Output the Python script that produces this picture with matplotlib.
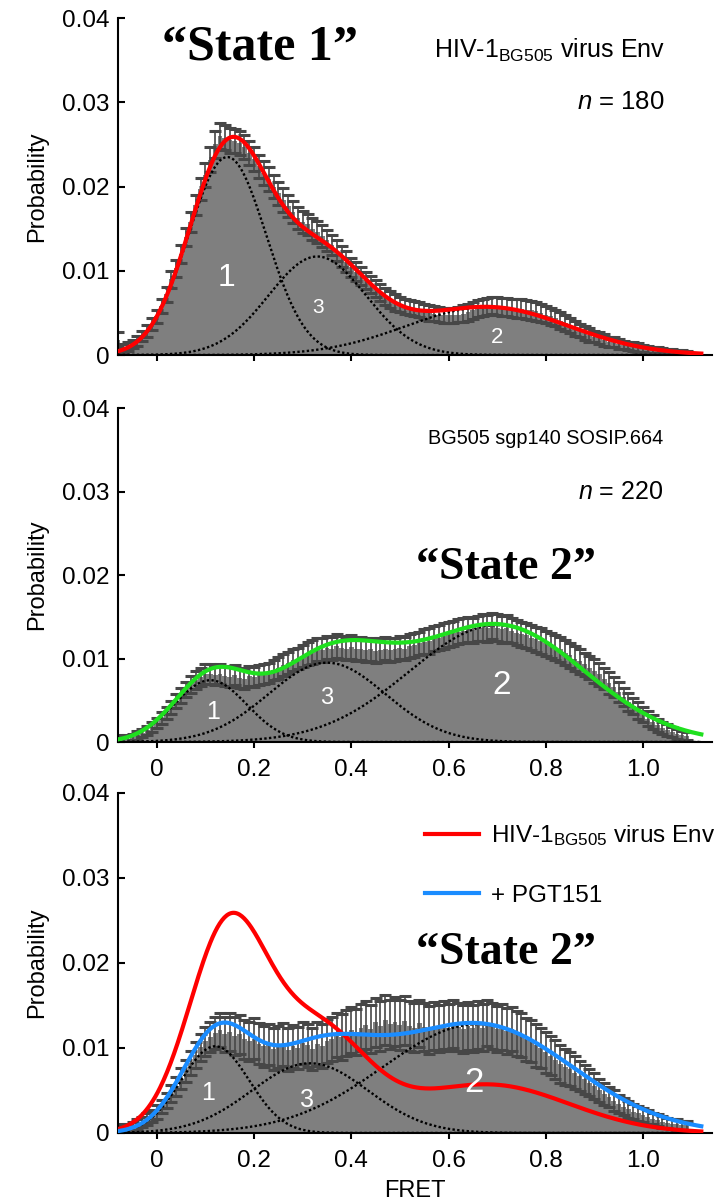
import numpy as np
import matplotlib
matplotlib.use("Agg")
import matplotlib.pyplot as plt

plt.rcParams['font.family'] = ['Liberation Sans', 'DejaVu Sans']
plt.rcParams['mathtext.fontset'] = 'custom'
plt.rcParams['mathtext.rm'] = 'Liberation Sans'
plt.rcParams['mathtext.it'] = 'Liberation Sans:italic'

# FRET bin centres (0.01 wide), -0.08 ... 1.09
fret_bins = np.round(np.arange(-8, 110) * 0.01, 2)

# histogram heights and errors, in units of 1e-4 probability
virus_bars = [18, 8, 10, 13, 17, 23, 29, 37,
              46, 58, 72, 90, 103, 120, 140, 158, 178, 197,
              214, 232, 250, 260, 258, 255, 254, 252, 247, 240,
              233, 224, 216, 209, 200, 192, 184, 177, 170, 163,
              158, 155, 150, 146, 141, 136, 131, 124, 117, 111,
              104, 99, 94, 89, 84, 79, 74, 70, 66, 62,
              60, 58, 56, 55, 54, 52, 50, 49, 48, 47,
              47, 47, 48, 49, 51, 53, 55, 56, 58, 59,
              58, 57, 57, 56, 55, 55, 54, 53, 52, 50,
              48, 46, 44, 41, 38, 35, 32, 29, 26, 24,
              22, 20, 18, 16, 15, 13, 12, 11, 10, 9,
              8, 7, 6, 5, 5, 4, 4, 3, 3, 2]
virus_errs = [9, 5, 5, 5, 6, 6, 7, 7,
              8, 8, 9, 10, 10, 11, 11, 12, 12, 13,
              14, 15, 16, 16, 15, 15, 14, 14, 14, 14,
              14, 14, 14, 14, 14, 14, 14, 13, 13, 13,
              13, 13, 13, 13, 13, 12, 12, 12, 12, 12,
              11, 11, 11, 10, 10, 10, 10, 10, 10, 10,
              9, 9, 9, 9, 9, 9, 9, 9, 9, 9,
              9, 9, 9, 10, 10, 10, 10, 10, 10, 10,
              11, 11, 11, 11, 11, 11, 11, 11, 11, 11,
              10, 10, 10, 10, 9, 9, 9, 8, 8, 8,
              7, 7, 7, 6, 6, 6, 5, 5, 5, 5,
              4, 4, 4, 4, 3, 3, 3, 3, 3, 3]

sosip_bars = [4, 3, 4, 6, 8, 11, 14, 18,
              23, 29, 35, 41, 49, 56, 63, 69, 74, 78,
              81, 82, 80, 81, 79, 78, 80, 77, 76, 79,
              78, 80, 82, 83, 86, 89, 92, 95, 98, 100,
              103, 106, 108, 111, 110, 113, 112, 115, 113, 112,
              114, 111, 112, 110, 111, 109, 110, 112, 110, 111,
              113, 112, 115, 116, 118, 120, 121, 124, 125, 127,
              129, 130, 132, 133, 135, 134, 136, 137, 136, 139,
              137, 135, 136, 133, 131, 129, 128, 125, 123, 121,
              118, 116, 113, 111, 107, 104, 100, 97, 93, 89,
              85, 81, 76, 71, 66, 60, 54, 48, 43, 38,
              33, 28, 24, 20, 17, 14, 12, 10, 8, 7]
sosip_errs = [5, 4, 4, 4, 5, 5, 5, 6,
              6, 7, 7, 8, 8, 9, 9, 10, 11, 11,
              12, 12, 12, 12, 12, 12, 12, 12, 12, 12,
              12, 12, 12, 12, 12, 13, 13, 13, 13, 13,
              13, 14, 14, 14, 14, 14, 14, 14, 14, 14,
              14, 14, 14, 14, 14, 14, 14, 14, 14, 14,
              14, 14, 14, 14, 14, 15, 15, 15, 15, 15,
              15, 15, 15, 15, 15, 15, 15, 16, 16, 16,
              16, 16, 16, 15, 15, 15, 15, 15, 15, 15,
              15, 15, 15, 15, 15, 15, 15, 15, 14, 14,
              14, 14, 13, 13, 12, 12, 11, 11, 10, 10,
              9, 9, 8, 8, 7, 7, 6, 6, 5, 5]

pgt_bars = [4, 5, 6, 8, 10, 13, 16, 20,
            25, 31, 38, 46, 55, 64, 73, 82, 92, 101,
            108, 113, 118, 121, 116, 119, 114, 116, 110, 108,
            111, 105, 102, 104, 99, 101, 104, 98, 102, 100,
            106, 103, 99, 105, 102, 108, 111, 115, 113, 118,
            121, 119, 124, 127, 122, 130, 126, 133, 128, 131,
            127, 132, 126, 124, 129, 125, 121, 126, 123, 127,
            124, 128, 125, 122, 126, 123, 127, 124, 129, 126,
            122, 125, 120, 122, 117, 115, 110, 108, 103, 100,
            95, 91, 86, 81, 78, 75, 71, 67, 63, 59,
            55, 50, 46, 42, 38, 34, 31, 28, 25, 23,
            21, 19, 17, 15, 13, 12, 11, 10, 9, 9]
pgt_errs = [5, 5, 5, 5, 6, 6, 7, 7,
            8, 8, 9, 10, 11, 12, 13, 14, 15, 16,
            17, 18, 19, 20, 21, 22, 22, 23, 23, 23,
            24, 24, 24, 24, 25, 25, 25, 25, 25, 25,
            25, 25, 25, 26, 26, 26, 26, 26, 27, 27,
            27, 27, 28, 28, 28, 29, 29, 29, 29, 29,
            29, 29, 29, 29, 28, 28, 28, 28, 28, 28,
            28, 28, 28, 28, 28, 28, 28, 28, 27, 27,
            27, 27, 27, 26, 26, 26, 25, 25, 25, 24,
            24, 23, 23, 22, 21, 20, 19, 18, 17, 16,
            15, 14, 13, 12, 12, 11, 10, 10, 9, 9,
            8, 8, 7, 7, 7, 6, 6, 6, 5, 5]

# gaussian components (state 1, state 3, state 2): amplitude, centre, width
virus_amp = [0.0235, 0.0117, 0.0057]
virus_mu = [0.145, 0.33, 0.68]
virus_sd = [0.08, 0.10, 0.167]

sosip_amp = [0.0074, 0.0095, 0.0140]
sosip_mu = [0.11, 0.35, 0.70]
sosip_sd = [0.075, 0.12, 0.18]

pgt_amp = [0.0102, 0.0082, 0.0128]
pgt_mu = [0.12, 0.315, 0.66]
pgt_sd = [0.07, 0.12, 0.195]

state_labels = ["1", "3", "2"]

y_ticks = [0, 0.01, 0.02, 0.03, 0.04]
y_tick_labels = ["0", "0.01", "0.02", "0.03", "0.04"]
x_ticks = [0, 0.2, 0.4, 0.6, 0.8, 1.0]
x_tick_labels = ["0", "0.2", "0.4", "0.6", "0.8", "1.0"]

fit_x = np.linspace(-0.08, 1.12, 500)


def gauss(x, amp, mu, sd):
    return amp * np.exp(-(x - mu) ** 2 / (2 * sd ** 2))


def fit_total(amps, mus, sds):
    return sum(gauss(fit_x, a, m, s) for a, m, s in zip(amps, mus, sds))


def draw_hist(ax, bars, errs, amps, mus, sds):
    bars = np.array(bars) * 1e-4
    errs = np.array(errs) * 1e-4
    ax.bar(fret_bins, bars, width=0.01, color="#7f7f7f", linewidth=0, zorder=1)
    ax.errorbar(fret_bins, bars, yerr=errs, fmt="none", ecolor="#474747",
                elinewidth=1.2, capsize=4, capthick=2.2, zorder=2)
    for a, m, s in zip(amps, mus, sds):
        ax.plot(fit_x, gauss(fit_x, a, m, s), color="black",
                linestyle=(0, (1, 1)), linewidth=1.7, zorder=3)


def style_axes(ax, show_xlabels):
    ax.set_xlim(-0.08, 1.142)
    ax.set_ylim(0, 0.04)
    ax.set_yticks(y_ticks)
    ax.set_yticklabels(y_tick_labels)
    ax.set_xticks(x_ticks)
    ax.set_xticklabels(x_tick_labels)
    ax.spines["top"].set_visible(False)
    ax.spines["right"].set_visible(False)
    ax.spines["left"].set_linewidth(1.5)
    ax.spines["bottom"].set_linewidth(1.5)
    ax.tick_params(axis="y", direction="in", length=5, width=1.5, labelsize=17.5, pad=6)
    ax.tick_params(axis="x", direction="out", length=4, width=1.5, labelsize=17.5, pad=8,
                   labelbottom=show_xlabels)
    ax.set_ylabel("Probability", fontsize=17, labelpad=10)


def put_numbers(ax, xs, ys, sizes):
    for lab, x, y, s in zip(state_labels, xs, ys, sizes):
        ax.text(x, y, lab, color="white", fontsize=s, ha="center", va="center", zorder=5)


fig = plt.figure(figsize=(7.15, 12.04), dpi=100)
ax1 = fig.add_axes([0.165, 0.7051, 0.8308, 0.2799])
ax2 = fig.add_axes([0.165, 0.3837, 0.8308, 0.2774])
ax3 = fig.add_axes([0.165, 0.0590, 0.8308, 0.2824])

serif = ["Liberation Serif", "DejaVu Serif"]

# panel 1: virus Env
draw_hist(ax1, virus_bars, virus_errs, virus_amp, virus_mu, virus_sd)
ax1.plot(fit_x, fit_total(virus_amp, virus_mu, virus_sd), color="#ff0000", linewidth=3.0, zorder=4)
style_axes(ax1, False)
put_numbers(ax1, [0.144, 0.331, 0.70], [0.0092, 0.0057, 0.0021], [23, 15, 16])
ax1.text(0.239, 0.912, "\u201cState 1\u201d", transform=ax1.transAxes, family=serif,
         fontweight="bold", fontsize=36, ha="center", va="center")
ax1.text(0.921, 0.905, r"HIV-1$_{\mathregular{BG505}}$ virus Env", transform=ax1.transAxes,
         fontsize=18, ha="right", va="center")
ax1.text(0.921, 0.751, r"$n$ = 180", transform=ax1.transAxes, fontsize=18.5, ha="right", va="center")

# panel 2: SOSIP
draw_hist(ax2, sosip_bars, sosip_errs, sosip_amp, sosip_mu, sosip_sd)
ax2.plot(fit_x, fit_total(sosip_amp, sosip_mu, sosip_sd), color="#1fe01f", linewidth=3.0, zorder=4)
style_axes(ax2, True)
put_numbers(ax2, [0.115, 0.35, 0.71], [0.0036, 0.0053, 0.0068], [18, 17, 24])
ax2.text(0.653, 0.521, "\u201cState 2\u201d", transform=ax2.transAxes, family=serif,
         fontweight="bold", fontsize=33, ha="center", va="center")
ax2.text(0.918, 0.910, "BG505 sgp140 SOSIP.664", transform=ax2.transAxes,
         fontsize=14.3, ha="right", va="center")
ax2.text(0.918, 0.749, r"$n$ = 220", transform=ax2.transAxes, fontsize=18, ha="right", va="center")

# panel 3: + PGT151, with virus fit for comparison
draw_hist(ax3, pgt_bars, pgt_errs, pgt_amp, pgt_mu, pgt_sd)
ax3.plot(fit_x, fit_total(virus_amp, virus_mu, virus_sd), color="#ff0000", linewidth=3.0, zorder=4,
         label=r"HIV-1$_{\mathregular{BG505}}$ virus Env")
ax3.plot(fit_x, fit_total(pgt_amp, pgt_mu, pgt_sd), color="#1a8cff", linewidth=3.0, zorder=4,
         label="+ PGT151")
style_axes(ax3, True)
ax3.set_xlabel("FRET", fontsize=17, labelpad=6)
put_numbers(ax3, [0.105, 0.309, 0.652], [0.0047, 0.0039, 0.0059], [18, 18, 25])
ax3.text(0.653, 0.529, "\u201cState 2\u201d", transform=ax3.transAxes, family=serif,
         fontweight="bold", fontsize=33, ha="center", va="center")
ax3.legend(loc="upper left", bbox_to_anchor=(0.517, 0.91), frameon=False, fontsize=17.5,
           borderpad=0, borderaxespad=0, handlelength=2.2, handletextpad=0.5, labelspacing=1.5)

fig.savefig("out.png", dpi=100)
